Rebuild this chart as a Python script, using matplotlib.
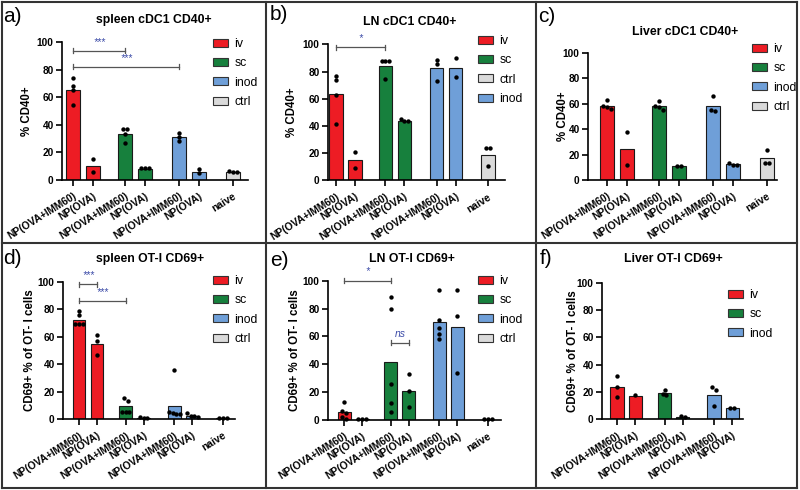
import numpy as np
import matplotlib
matplotlib.use('Agg')
import matplotlib.pyplot as plt
from matplotlib.patches import Patch
from matplotlib.lines import Line2D

plt.rcParams['font.family'] = ['Liberation Sans', 'DejaVu Sans']

# ---------------- data ----------------
xlabels = ['NP(OVA+IMM60)', 'NP(OVA)', 'NP(OVA+IMM60)', 'NP(OVA)',
           'NP(OVA+IMM60)', 'NP(OVA)', 'naive']
routes = ['iv', 'iv', 'sc', 'sc', 'inod', 'inod', 'ctrl']

# a) spleen cDC1 CD40+
a_bars = [65, 10, 33.5, 8, 31, 6, 6]
a_pts = [[74, 68, 65, 54], [15, 6], [37, 37, 33, 27], [8.5, 8.5, 8.5],
         [34, 31, 28], [8, 5], [6.5, 6, 5.5]]
# b) LN cDC1 CD40+
b_bars = [63.5, 15, 84, 44, 83, 83, 19]
b_pts = [[77, 74, 63, 41.5], [21, 9.5], [87.5, 87.5, 87.5, 74.5], [44, 44, 45],
         [88.5, 86, 73.5], [90, 76], [24, 24, 11]]
# c) Liver cDC1 CD40+
c_bars = [58, 24.5, 58, 11, 58.5, 12.5, 17]
c_pts = [[63, 58, 57, 56], [37.5, 11.5], [62, 58.5, 57, 55], [11, 11],
         [66, 55, 54], [13.5, 12, 11.5], [23.5, 13.5, 13.5]]
# d) spleen OT-I CD69+
d_bars = [72, 54.5, 9.5, 1, 10, 2.7, 0.7]
d_pts = [[79, 75.5, 69.5, 69.5, 69], [61, 57, 47], [15.5, 13.5, 5.5, 5, 5],
         [1.5, 1.2, 1], [35.5, 5, 4.5, 4, 3.5], [4.5, 2.5, 2.2, 1.5], [1, 1, 1]]
# e) LN OT-I CD69+
e_bars = [5.5, 0.7, 41.5, 20.5, 70.3, 67, 0.3]
e_pts = [[13, 6.5, 5, 2, 1], [0.7, 0.7, 0.7], [88.5, 79.5, 26, 12.5, 5.5],
         [33, 20.5, 9], [93, 72, 66, 61.5, 58], [93, 75, 33.5], [0.5, 0.5, 0.5]]
# f) Liver OT-I CD69+
f_bars = [24, 17.3, 19, 2, 18, 8.5]
f_pts = [[31.5, 24, 16.5], [17.5], [21.5, 18.5, 17.8], [2.5, 2],
         [23.5, 21.5, 10], [8.5, 8.2]]

# significance brackets: (from bar, to bar, level, text)
a_sig = [(0, 2, 93.5, '***'), (0, 4, 82, '***')]
b_sig = [(0, 2, 98, '*')]
d_sig = [(0, 1, 98, '***'), (0, 2, 86, '***')]
e_sig = [(0, 2, 100, '*'), (2, 3, 55.5, 'ns')]

colors = {'iv': '#ed1c24', 'sc': '#17803d', 'inod': '#6f9fd8', 'ctrl': '#dadada'}
xpos = [0, 1, 2.6, 3.6, 5.3, 6.3, 8.0]

W, H = 800, 490
fig = plt.figure(figsize=(8, 4.9), dpi=100)


def fx(x):
    return x / W


def fy(y):
    return 1 - y / H


def swarm(vals, tol=2.5, step=0.2):
    vals = np.asarray(vals, float)
    order = np.argsort(-vals)
    offs = np.zeros(len(vals))
    groups = []
    for i in order:
        if groups and abs(vals[groups[-1][-1]] - vals[i]) < tol:
            groups[-1].append(i)
        else:
            groups.append([i])
    for g in groups:
        k = len(g)
        for n, i in enumerate(g):
            offs[i] = (n - (k - 1) / 2) * step
    return offs


def panel(letter, lxy, title, txy, box, xlim, bars, pts, ylabel, ylx,
          leg_order, leg_xy, sig=()):
    sx, ex, y0, y100 = box
    ax = fig.add_axes([fx(sx), fy(y0), (ex - sx) / W, (y0 - y100) / H])
    n = len(bars)
    x = xpos[:n]
    ax.bar(x, bars, width=0.72, color=[colors[r] for r in routes[:n]],
           edgecolor='#1a1a1a', linewidth=0.8, zorder=2)
    for xi, vals in zip(x, pts):
        ax.scatter(xi + swarm(vals), vals, s=10, color='black', zorder=3,
                   clip_on=False, linewidths=0)
    ax.set_xlim(xlim)
    ax.set_ylim(0, 100)
    for s in ['top', 'right']:
        ax.spines[s].set_visible(False)
    for s in ['left', 'bottom']:
        ax.spines[s].set_linewidth(1.2)
    ax.set_yticks(range(0, 101, 20))
    ax.set_yticklabels([str(v) for v in range(0, 101, 20)], fontsize=7.3,
                       fontweight='bold')
    ax.set_xticks(x)
    ax.set_xticklabels(xlabels[:n], rotation=32, ha='right',
                       rotation_mode='anchor', fontsize=7.4, fontweight='bold')
    ax.tick_params(axis='x', length=4, width=1.2, pad=4)
    ax.tick_params(axis='y', length=4, width=1.2, pad=2)

    for i, j, lv, t in sig:
        ax.plot([x[i], x[j]], [lv, lv], color='#555555', lw=0.9, clip_on=False)
        for xx in (x[i], x[j]):
            ax.plot([xx, xx], [lv - 1.8, lv + 1.8], color='#555555', lw=0.9,
                    clip_on=False)
        ax.text((x[i] + x[j]) / 2, lv + 3, t, ha='center', va='bottom',
                fontsize=7.5, color='#3c4ca8', style='italic', clip_on=False)

    handles = [Patch(facecolor=colors[k], edgecolor='#333333', linewidth=0.8)
               for k in leg_order]
    ax.legend(handles, leg_order, loc='upper left',
              bbox_to_anchor=(fx(leg_xy[0]), fy(leg_xy[1])),
              bbox_transform=fig.transFigure, frameon=False, fontsize=8.8,
              handlelength=1.25, handleheight=0.6, handletextpad=0.5,
              labelspacing=0.6, borderpad=0, borderaxespad=0)

    fig.text(fx(ylx), fy((y0 + y100) / 2), ylabel, rotation=90, ha='center',
             va='center', fontsize=8.3, fontweight='bold')
    fig.text(fx(txy[0]), fy(txy[1]), title, ha='center', va='center',
             fontsize=8.8, fontweight='bold')
    fig.text(fx(lxy[0]), fy(lxy[1]), letter, ha='left', va='center', fontsize=15)
    return ax


ylab1 = '% CD40+'
ylab2 = 'CD69+ % of OT- I cells'

panel('a)', (3, 17), 'spleen cDC1 CD40+', (154, 20), (62, 248, 180, 42),
      (-0.55, 8.75), a_bars, a_pts, ylab1, 27,
      ['iv', 'sc', 'inod', 'ctrl'], (213, 38), a_sig)
panel('b)', (270, 14), 'LN cDC1 CD40+', (410, 22), (328, 505, 180.5, 44.5),
      (-0.42, 8.9), b_bars, b_pts, ylab1, 292,
      ['iv', 'sc', 'ctrl', 'inod'], (478, 35), b_sig)
panel('c)', (538, 17), 'Liver cDC1 CD40+', (685, 32), (588, 777, 180, 52.7),
      (-0.95, 8.5), c_bars, c_pts, ylab1, 563,
      ['iv', 'sc', 'inod', 'ctrl'], (752, 43))
panel('d)', (3, 258), 'spleen OT-I CD69+', (150, 259), (63, 235, 419.3, 281.7),
      (-0.89, 8.67), d_bars, d_pts, ylab2, 30,
      ['iv', 'sc', 'inod', 'ctrl'], (213, 275), d_sig)
panel('e)', (270, 260), 'LN OT-I CD69+', (412, 259), (328, 501, 420, 280.7),
      (-0.89, 8.72), e_bars, e_pts, ylab2, 295,
      ['iv', 'sc', 'inod', 'ctrl'], (478, 275), e_sig)
panel('f)', (540, 258), 'Liver OT-I CD69+', (673, 259), (602, 743, 419.3, 282.7),
      (-0.82, 6.89), f_bars, f_pts, ylab2, 573,
      ['iv', 'sc', 'inod'], (728, 289))

# panel frames
for xv in (2, 266, 536, 797):
    fig.add_artist(Line2D([fx(xv), fx(xv)], [fy(2), fy(488)],
                          transform=fig.transFigure, color='#333333', lw=1.5))
for yv in (2, 243, 488):
    fig.add_artist(Line2D([fx(2), fx(797)], [fy(yv), fy(yv)],
                          transform=fig.transFigure, color='#333333', lw=1.5))

fig.savefig('out.png', dpi=100)
